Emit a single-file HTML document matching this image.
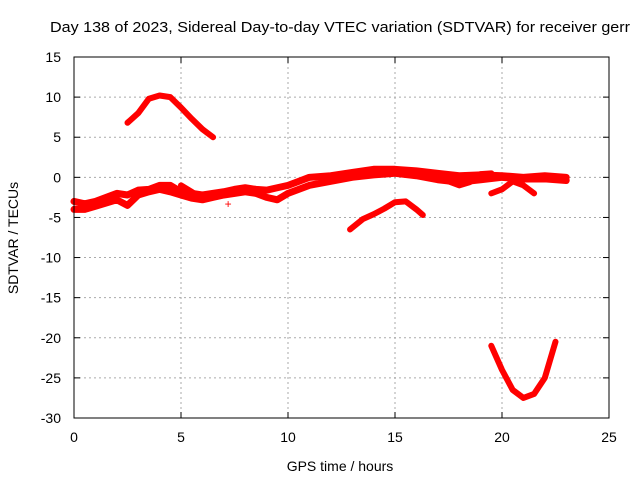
<!DOCTYPE html>
<html><head><meta charset="utf-8"><style>
html,body{margin:0;padding:0;background:#fff;overflow:hidden}
svg{font-family:"Liberation Sans",sans-serif;font-size:13px}
</style></head><body>
<svg id="chart" width="640" height="480">
<text x="50" y="32" fill="#000" font-size="14.5" textLength="580" lengthAdjust="spacingAndGlyphs">Day 138 of 2023, Sidereal Day-to-day VTEC variation (SDTVAR) for receiver gerr</text>
<g id="grid"></g><g id="axes"></g><g id="series"></g>
<rect x="74" y="57" width="535" height="361" fill="none" stroke="#000"/>
<text x="340" y="471" text-anchor="middle" font-size="14">GPS time / hours</text>
<text transform="translate(18,238) rotate(-90)" text-anchor="middle" font-size="14">SDTVAR / TECUs</text>
</svg>
<script>
const xTicks=[0,5,10,15,20,25];
const yTicks=[15,10,5,0,-5,-10,-15,-20,-25,-30];
const trackMainUpper=[[0,-3],[0.5,-3.3],[1,-3],[1.5,-2.5],[2,-2],[2.5,-2.2],[3,-1.6],[3.5,-1.5],[4,-1],[4.5,-1],[5,-1.8],[5.5,-2],[6,-2.2],[6.5,-2],[7,-1.8],[7.5,-1.5],[8,-1.3],[8.5,-1.5],[9,-1.6],[9.5,-1.3],[10,-1],[10.5,-0.5],[11,0],[12,0.2],[13,0.6],[14,1],[15,1],[16,0.8],[17,0.5],[18,0.2],[19,0.3],[20,0.2],[21,0],[22,0.2],[23,0]];
const trackMainLower=[[0,-4],[0.5,-4],[1,-3.6],[1.5,-3.2],[2,-2.8],[2.5,-3.5],[3,-2.2],[3.5,-1.8],[4,-1.5],[4.5,-1.8],[5,-2.2],[5.5,-2.6],[6,-2.8],[6.5,-2.5],[7,-2.2],[7.5,-2],[8,-1.8],[8.5,-2],[9,-2.5],[9.5,-2.8],[10,-2],[10.5,-1.5],[11,-1],[12,-0.5],[13,0],[14,0.3],[15,0.5],[16,0.2],[17,-0.3],[18,-0.6],[19,-0.3],[20,0],[21,-0.2],[22,-0.2],[23,-0.4]];
const trackHump=[[2.5,6.8],[3,8],[3.5,9.8],[4,10.2],[4.5,10],[5,8.7],[5.5,7.3],[6,6],[6.5,5]];
const trackDip=[[12.9,-6.5],[13.5,-5.2],[14,-4.6],[14.5,-3.9],[15,-3.1],[15.5,-3],[16,-4],[16.3,-4.7]];
const trackV=[[19.5,-21],[20,-24],[20.5,-26.5],[21,-27.5],[21.5,-27],[22,-25],[22.5,-20.5]];
const trackLate1=[[17.5,-0.5],[18,-1],[18.5,-0.6],[19,0.4],[19.5,0.5]];
const trackLate2=[[19.5,-2],[20,-1.5],[20.5,-0.5],[21,-1],[21.5,-2]];
const trackEarly=[[5,-1],[5.5,-1.8],[6,-2.8],[6.5,-2.5]];
const X=v=>74+v*535/25, Y=v=>57+(15-v)*361/45;
const NS="http://www.w3.org/2000/svg";
function mk(t,a,p){const e=document.createElementNS(NS,t);for(const k in a)e.setAttribute(k,a[k]);p.appendChild(e);return e;}
const grid=document.getElementById('grid'),axes=document.getElementById('axes'),ser=document.getElementById('series');
xTicks.forEach(t=>{
 if(t>0&&t<25){const l=mk('line',{x1:X(t),x2:X(t),y1:57,y2:418,stroke:'#aaa','stroke-dasharray':'2,3'},grid);
 }
 const tx=mk('text',{x:X(t),y:442,'text-anchor':'middle','font-size':14},axes);tx.textContent=t;
 
 mk('line',{x1:X(t),x2:X(t),y1:418,y2:412,stroke:'#000'},axes);mk('line',{x1:X(t),x2:X(t),y1:57,y2:63,stroke:'#000'},axes);
});
yTicks.forEach(t=>{
 if(t<15&&t>-30){const l=mk('line',{x1:74,x2:609,y1:Y(t),y2:Y(t),stroke:'#aaa','stroke-dasharray':'2,3'},grid);
 }
 const tx=mk('text',{x:61,y:Y(t)+5,'text-anchor':'end','font-size':14},axes);tx.textContent=t;
 
 mk('line',{x1:74,x2:80,y1:Y(t),y2:Y(t),stroke:'#000'},axes);mk('line',{x1:609,x2:603,y1:Y(t),y2:Y(t),stroke:'#000'},axes);
});
const tracks=[[trackMainUpper,7],[trackMainLower,7],[trackHump,6],[trackDip,6],[trackV,6],[trackLate1,6],[trackLate2,6],[trackEarly,6]];
tracks.forEach(([d,w])=>{
 const p=mk('polyline',{points:d.map(q=>X(q[0])+','+Y(q[1])).join(' '),fill:'none',stroke:'#f00','stroke-width':w,'stroke-linejoin':'round','stroke-linecap':'round'},ser);
 
});
const m=mk('text',{x:X(7.2),y:Y(-3.3)+4,'text-anchor':'middle',fill:'#f00','font-size':'12'},ser);m.textContent='+';

</script>
</body></html>
